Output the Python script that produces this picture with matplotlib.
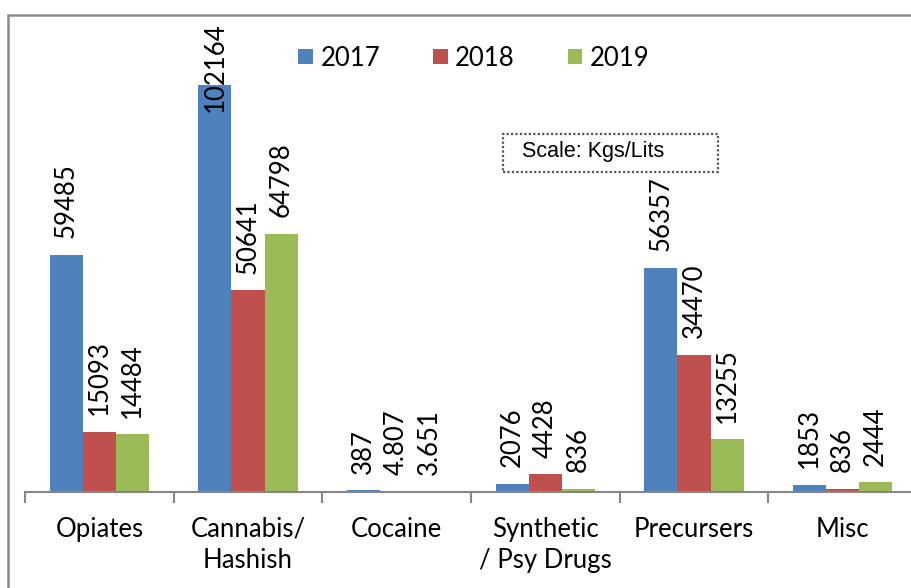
import matplotlib
matplotlib.use("Agg")
import matplotlib.pyplot as plt
from matplotlib.patches import Patch, Rectangle
import numpy as np

# Seizure quantities by drug category and year
categories = ["Opiates", "Cannabis/\nHashish", "Cocaine", "Synthetic\n/ Psy Drugs", "Precursers", "Misc"]
years = ["2017", "2018", "2019"]
seized_2017 = [59485, 102164, 387, 2076, 56357, 1853]
seized_2018 = [15093, 50641, 4.807, 4428, 34470, 836]
seized_2019 = [14484, 64798, 3.651, 836, 13255, 2444]
series = [seized_2017, seized_2018, seized_2019]
colors = ["#4F81BD", "#C0504D", "#9BBB59"]

plt.rcParams["font.family"] = ["Lato", "DejaVu Sans"]

W, H = 912, 588
fig = plt.figure(figsize=(W / 100, H / 100), dpi=100)
fig.patch.set_facecolor("white")

def px(x0, y0, x1, y1):
    """Figure-fraction rectangle from pixel corners (top-left origin)."""
    return [x0 / W, 1 - y1 / H, (x1 - x0) / W, (y1 - y0) / H]

# Chart-area border
fig.patches.append(Rectangle((8 / W, -0.05), 1.2, 1 - 15 / H + 0.05,
                             transform=fig.transFigure, fill=False,
                             edgecolor="#8c8c8c", linewidth=1.8, zorder=0))

ax = fig.add_axes(px(25, 14, 917, 492))
n = len(categories)
x = np.arange(n)
bw = 0.222
labels = []
for i, (vals, c) in enumerate(zip(series, colors)):
    pos = x + (i - 1) * bw
    ax.bar(pos, vals, width=bw, color=c, linewidth=0, zorder=2)
    for xp, v in zip(pos, vals):
        t = ax.annotate(f"{v:g}", xy=(xp, v), xytext=(0, 12), textcoords="offset points",
                        rotation=90, ha="center", va="bottom", fontsize=18.5, color="black",
                        zorder=3)
        labels.append(t)

ax.set_xlim(-0.5, n - 0.5)
ax.set_ylim(0, 120000)
ax.set_yticks([])
for s in ["left", "top", "right"]:
    ax.spines[s].set_visible(False)
ax.spines["bottom"].set_color("#868686")
ax.spines["bottom"].set_linewidth(1.5)

ax.set_xticks(np.arange(n + 1) - 0.5)
ax.set_xticklabels([])
ax.tick_params(axis="x", which="major", length=8, width=1.5, color="#868686", direction="out")
ax.set_xticks(x, minor=True)
ax.set_xticklabels(categories, minor=True, fontsize=18.5, linespacing=1.28)
ax.tick_params(axis="x", which="minor", length=0, pad=18)
ax.patch.set_alpha(0)

# Keep value labels inside the chart area: pull down any that run past the top
fig.canvas.draw()
renderer = fig.canvas.get_renderer()
top_limit = H - 22  # display pixels (origin bottom-left)
for t in labels:
    bb = t.get_window_extent(renderer)
    if bb.y1 > top_limit:
        t.set_position((0, 12 - (bb.y1 - top_limit) * 72 / 100))

handles = [Patch(facecolor=c, edgecolor="none") for c in colors]
fig.legend(handles, years, loc="center", bbox_to_anchor=(474 / W, 1 - 58 / H),
           ncol=3, frameon=False, fontsize=18.5, handlelength=0.57, handleheight=0.57,
           handletextpad=0.3, columnspacing=2.05, borderpad=0)

# Unit note
fig.patches.append(Rectangle((503 / W, 1 - 172 / H), 215 / W, 38 / H,
                             transform=fig.transFigure, fill=False,
                             edgecolor="#555555", linewidth=1.6, linestyle=(0, (1, 1))))
fig.text(522 / W, 1 - 151 / H, "Scale: Kgs/Lits", family="Liberation Sans",
         fontsize=15.5, ha="left", va="center", color="black")

fig.savefig("out.png", dpi=100)
